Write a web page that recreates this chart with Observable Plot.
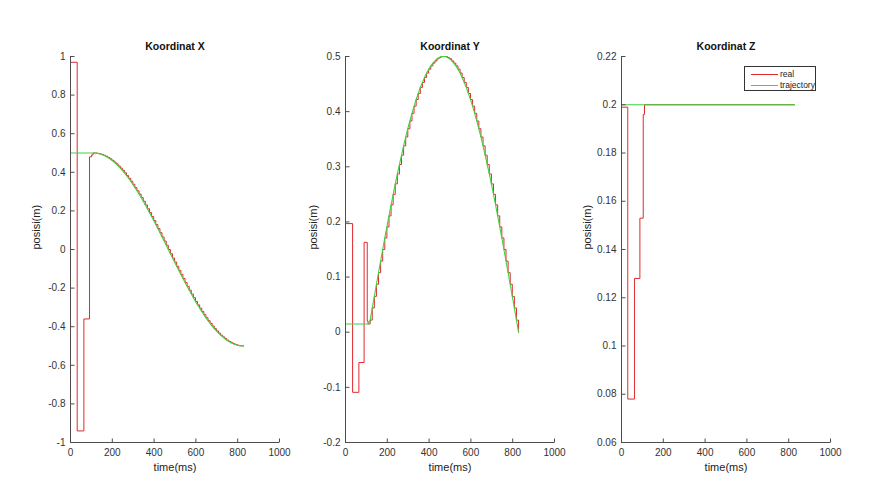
<!DOCTYPE html>
<html><head><meta charset="utf-8">
<script src="https://cdn.jsdelivr.net/npm/d3@7"></script>
<script src="https://cdn.jsdelivr.net/npm/@observablehq/plot@0.6"></script>
<style>
body{margin:0;background:#fff;}
#wrap{position:relative;width:869px;height:497px;overflow:hidden;background:#fff;font-family:"Liberation Sans",Arial,sans-serif;}
.panel{position:absolute;top:0;}
.legend{position:absolute;left:744px;top:66px;width:72px;height:25px;border:1px solid #333;background:#fff;font-size:8.5px;color:#222;box-sizing:border-box;}
.legend .row{position:absolute;left:0;height:10px;line-height:10px;}
.legend .sw{position:absolute;left:6px;top:5px;width:27px;height:1px;}
.legend .lb{position:absolute;left:35px;top:0;white-space:nowrap;}
</style></head>
<body><div id="wrap"></div>
<script>
// time axis ticks
const xTicks = [0, 200, 400, 600, 800, 1000];
// trajectory sample times (ms)
const trajT = [0,108,118,128,138,148,158,168,178,188,198,208,218,228,238,248,258,268,278,288,298,308,318,328,338,348,358,368,378,388,398,408,418,428,438,448,458,468,478,488,498,508,518,528,538,548,558,568,578,588,598,608,618,628,638,648,658,668,678,688,698,708,718,728,738,748,758,768,778,788,798,808,818,828];
// trajectory X
const trajX = [0.5,0.500,0.500,0.498,0.496,0.492,0.488,0.483,0.477,0.470,0.462,0.453,0.444,0.433,0.422,0.410,0.397,0.383,0.369,0.354,0.338,0.321,0.304,0.287,0.269,0.250,0.231,0.211,0.191,0.171,0.150,0.129,0.108,0.087,0.065,0.044,0.022,0.000,-0.022,-0.044,-0.065,-0.087,-0.108,-0.129,-0.150,-0.171,-0.191,-0.211,-0.231,-0.250,-0.269,-0.287,-0.304,-0.321,-0.338,-0.354,-0.369,-0.383,-0.397,-0.410,-0.422,-0.433,-0.444,-0.453,-0.462,-0.470,-0.477,-0.483,-0.488,-0.492,-0.496,-0.498,-0.500,-0.500];
// trajectory Y
const trajY = [0.015,0.015,0.022,0.044,0.065,0.087,0.108,0.129,0.150,0.171,0.191,0.211,0.231,0.250,0.269,0.287,0.304,0.321,0.338,0.354,0.369,0.383,0.397,0.410,0.422,0.433,0.444,0.453,0.462,0.470,0.477,0.483,0.488,0.492,0.496,0.498,0.500,0.500,0.500,0.498,0.496,0.492,0.488,0.483,0.477,0.470,0.462,0.453,0.444,0.433,0.422,0.410,0.397,0.383,0.369,0.354,0.338,0.321,0.304,0.287,0.269,0.250,0.231,0.211,0.191,0.171,0.150,0.129,0.108,0.087,0.065,0.044,0.022,0.000];
// trajectory Z
const trajZT = [0, 828];
const trajZ = [0.2, 0.2];
// real (measured) start-up transients, before tracking the trajectory
const realXT = [0, 32, 64, 91, 101];
const realX = [0.97, -0.94, -0.36, 0.48, 0.49];
const realYT = [0, 34, 64, 89, 104];
const realY = [0.197, -0.109, -0.055, 0.163, 0.02];
const realZT = [0, 30, 62, 88, 104, 110, 828];
const realZ = [0.199, 0.078, 0.128, 0.153, 0.196, 0.2, 0.2];
// y ticks
const yTicksX = [-1,-0.8,-0.6,-0.4,-0.2,0,0.2,0.4,0.6,0.8,1];
const yTicksY = [-0.2,-0.1,0,0.1,0.2,0.3,0.4,0.5];
const yTicksZ = [0.06,0.08,0.1,0.12,0.14,0.16,0.18,0.2,0.22];
const titles = ["Koordinat X", "Koordinat Y", "Koordinat Z"];

const RED = "#e0292f", GREEN = "#3fd43f", AXIS = "#4d4d4d";
const fmt = d => String(Math.round(d * 100) / 100);
// inward tick symbols (MATLAB style)
const tickUp = {draw(ctx) { ctx.moveTo(0, 0); ctx.lineTo(0, -4); }};
const tickRight = {draw(ctx) { ctx.moveTo(0, 0); ctx.lineTo(4, 0); }};

function table(ts, vs) { return ts.map((t, i) => ({t, v: vs[i]})); }

function panel({title, yDomain, yTicks, real, traj, ylabDx}) {
  return Plot.plot({
    width: 290, height: 497,
    marginLeft: 70, marginRight: 11, marginTop: 56, marginBottom: 55,
    x: {domain: [0, 1000]},
    y: {domain: yDomain},
    style: {fontFamily: '"Liberation Sans", Arial, sans-serif', fontSize: "10px", color: "#333", background: "transparent", overflow: "visible"},
    marks: [
      Plot.line(real, {x: "t", y: "v", curve: "step-after", stroke: RED, strokeWidth: 1}),
      Plot.line(traj, {x: "t", y: "v", stroke: GREEN, strokeWidth: 1.1}),
      Plot.ruleX([0], {stroke: AXIS}),
      Plot.ruleY([yDomain[0]], {stroke: AXIS}),
      Plot.dot(xTicks, {x: d => d, y: () => yDomain[0], symbol: tickUp, r: 4, fill: "none", stroke: AXIS, strokeWidth: 1}),
      Plot.dot(yTicks, {x: () => 0, y: d => d, symbol: tickRight, r: 4, fill: "none", stroke: AXIS, strokeWidth: 1}),
      Plot.axisX({ticks: xTicks, tickSize: 0, tickPadding: 6, label: null, tickFormat: d => String(d)}),
      Plot.axisY({ticks: yTicks, tickSize: 0, tickPadding: 5, label: null, tickFormat: fmt}),
      Plot.text([title], {frameAnchor: "top", dy: -14, fontWeight: "bold", fontSize: 10.5, fill: "#111"}),
      Plot.text(["posisi(m)"], {frameAnchor: "left", dx: ylabDx, rotate: -90, fontSize: 11, fill: "#222"}),
      Plot.text(["time(ms)"], {frameAnchor: "bottom", dy: 28, fontSize: 11, fill: "#222"})
    ]
  });
}

const trajXTable = table(trajT, trajX);
const trajYTable = table(trajT, trajY);
const panels = [
  panel({title: titles[0], yDomain: [-1, 1], yTicks: yTicksX,
    real: table(realXT, realX).concat(trajXTable.filter(d => d.t > 0)),
    traj: trajXTable, ylabDx: -34}),
  panel({title: titles[1], yDomain: [-0.2, 0.5], yTicks: yTicksY,
    real: table(realYT, realY).concat(trajYTable.filter(d => d.t > 0)),
    traj: trajYTable, ylabDx: -32}),
  panel({title: titles[2], yDomain: [0.06, 0.22], yTicks: yTicksZ,
    real: table(realZT, realZ),
    traj: table(trajZT, trajZ), ylabDx: -34})
];
const lefts = [0, 275, 551];
const wrap = document.getElementById("wrap");
panels.forEach((p, i) => { p.classList.add("panel"); p.style.left = lefts[i] + "px"; wrap.appendChild(p); });

const legend = document.createElement("div");
legend.className = "legend";
[["real", RED], ["trajectory", GREEN]].forEach(([name, c], i) => {
  const row = document.createElement("div");
  row.className = "row"; row.style.top = (2 + i * 11) + "px"; row.style.width = "70px";
  row.innerHTML = `<span class="sw" style="background:${c}"></span><span class="lb">${name}</span>`;
  legend.appendChild(row);
});
wrap.appendChild(legend);
</script>
</body></html>
